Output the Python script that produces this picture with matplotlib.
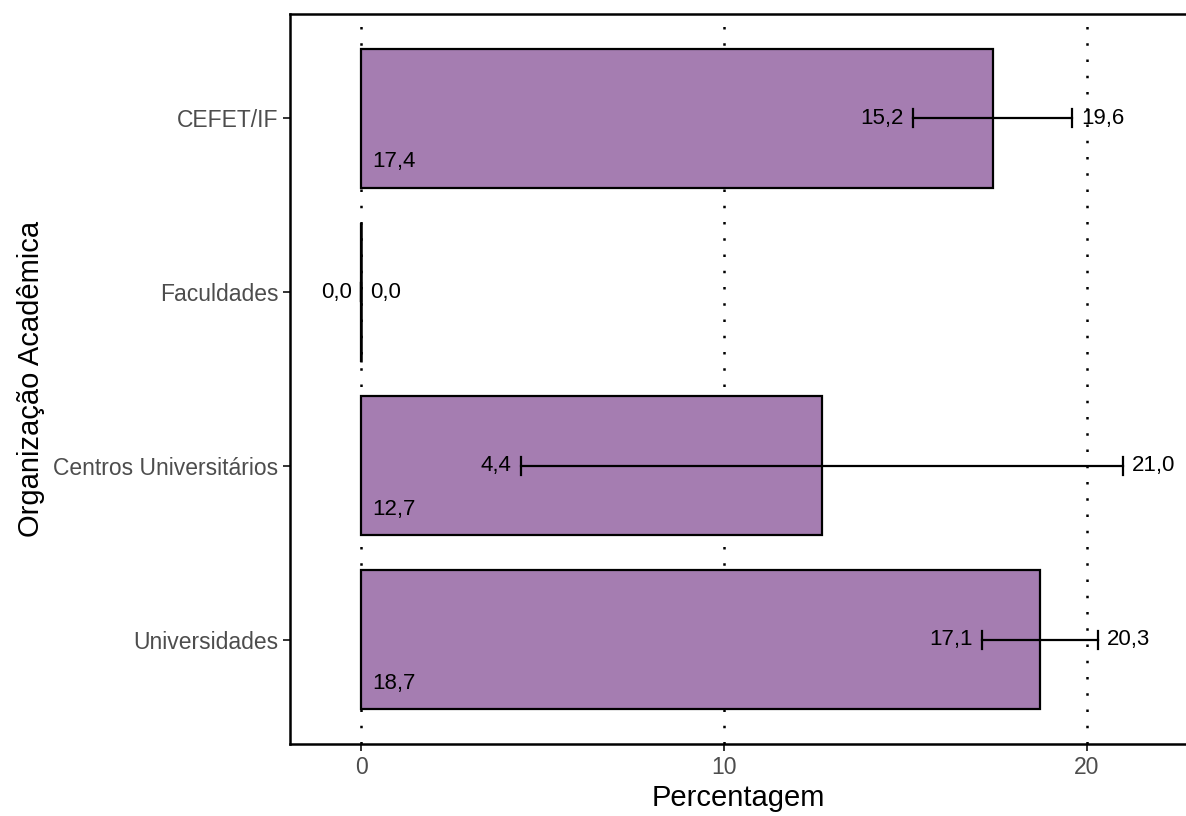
import matplotlib
matplotlib.use("Agg")
import matplotlib.pyplot as plt

plt.rcParams["font.family"] = ["Liberation Sans", "DejaVu Sans"]

categories = ["Universidades", "Centros Universitários", "Faculdades", "CEFET/IF"]
values = [18.7, 12.7, 0.0, 17.4]
lower = [17.1, 4.4, 0.0, 15.2]
upper = [20.3, 21.0, 0.0, 19.6]

FILL = "#A57DB1"


def fmt(v):
    return f"{v:.1f}".replace(".", ",")


def main():
    fig = plt.figure(figsize=(11.86, 8.16), dpi=100)
    ax = fig.add_axes([0.2445, 0.0882, 0.7555, 0.8946])

    pos = list(range(1, len(categories) + 1))
    ax.barh(pos, values, height=0.8, color=FILL, edgecolor="black", linewidth=1.6, zorder=2)

    for p, v, lo, hi in zip(pos, values, lower, upper):
        if v == 0:
            # zero-width bar: only its outline shows as a vertical line
            ax.plot([v, v], [p - 0.4, p + 0.4], color="black", lw=1.8,
                    solid_capstyle="butt", zorder=3)
        # error bar with caps
        ax.plot([lo, hi], [p, p], color="black", lw=1.6, zorder=3)
        for c in (lo, hi):
            ax.plot([c, c], [p - 0.052, p + 0.052], color="black", lw=1.6, zorder=3)
        ax.annotate(fmt(lo), (lo, p), xytext=(-6.5, 0), textcoords="offset points",
                    ha="right", va="center", fontsize=16, zorder=4)
        ax.annotate(fmt(hi), (hi, p), xytext=(6.5, 0), textcoords="offset points",
                    ha="left", va="center", fontsize=16, zorder=4)
        if v > 0:
            ax.annotate(fmt(v), (0, p - 0.25), xytext=(8, 0), textcoords="offset points",
                        ha="left", va="center", fontsize=16, zorder=4)

    ax.set_xlim(-1.96, 22.73)
    ax.set_ylim(0.4, 4.6)
    ax.set_yticks(pos)
    ax.set_yticklabels(categories)
    ax.set_xticks([0, 10, 20])
    ax.tick_params(axis="both", labelsize=16.5, labelcolor="#4D4D4D", color="#333333",
                   length=5, width=1.4)
    ax.grid(True, axis="x", color="black", ls=(0, (1, 5.5)), lw=1.8)
    ax.set_axisbelow(True)
    ax.spines["right"].set_visible(False)
    for s in ("left", "bottom", "top"):
        ax.spines[s].set_linewidth(1.8)
    ax.set_xlabel("Percentagem", fontsize=21, labelpad=4)
    ax.set_ylabel("Organização Acadêmica", fontsize=21, labelpad=6)

    fig.savefig("out.png", dpi=100)


if __name__ == "__main__":
    main()
